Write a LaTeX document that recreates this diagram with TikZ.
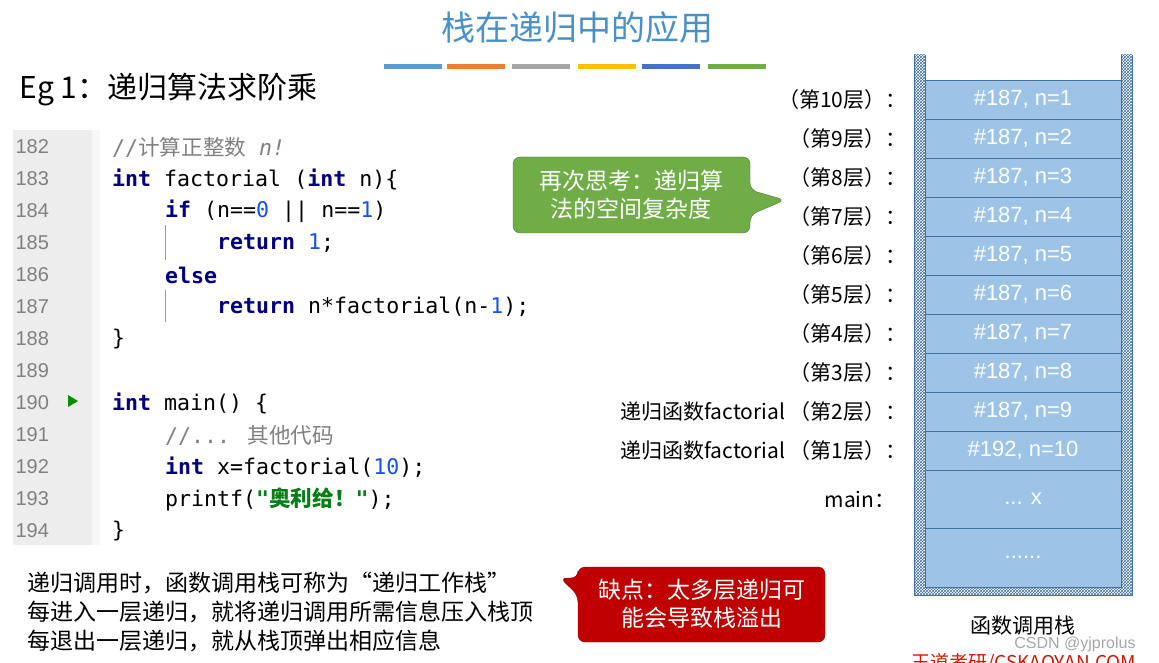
\documentclass[tikz,border=0pt]{standalone}
\usepackage{fontspec}
\setmainfont{Liberation Sans}
\newfontfamily\cjk{Noto Sans CJK SC}
\newfontfamily\mono{DejaVu Sans Mono}
\usetikzlibrary{patterns,shapes.callouts}
\definecolor{ttl}{HTML}{4A90C8}
\definecolor{cell}{HTML}{9DC3E6}
\definecolor{cellb}{HTML}{41719C}
\definecolor{kw}{HTML}{000080}
\definecolor{num}{HTML}{1750EB}
\definecolor{cmt}{HTML}{808080}
\definecolor{str}{HTML}{067D17}
\definecolor{gbox}{HTML}{70AD47}
\definecolor{rbox}{HTML}{C00000}
\tikzset{
 cellbox/.style={draw=cellb,fill=cell,line width=0.8pt,text=white,font=\fontsize{22}{22}\selectfont},
 lnum/.style={anchor=west,text=cmt,font=\fontsize{20}{20}\selectfont},
 code/.style={anchor=west,font=\mono\fontsize{21.6}{21.6}\selectfont,inner sep=0},
 lvl/.style={anchor=east,font=\cjk\fontsize{21}{21}\selectfont},
 wall/.style={pattern=crosshatch,pattern color=cellb},
}
\newcommand{\kwd}[1]{\textcolor{kw}{\textbf{#1}}}
\newcommand{\nm}[1]{\textcolor{num}{#1}}
\begin{document}
\begin{tikzpicture}[x=1pt,y=-1pt]
\useasboundingbox (0,0) rectangle (1159,663);
% title
\node[text=ttl,font=\cjk\fontsize{34}{34}\selectfont] (title) at (577,28) {栈在递归中的应用};
\foreach \c/\x in {5B9BD5/384,ED7D31/447,A5A5A5/512,FFC000/578,4472C4/642,70AD47/708}{
 \definecolor{tmp}{HTML}{\c}\fill[tmp] (\x,64) rectangle +(58,5);}
\node[anchor=west,font=\cjk\fontsize{30}{30}\selectfont] (eg) at (16,90) {Eg 1：递归算法求阶乘};
% code panel
\fill[black!7] (13,130) rectangle (92,545);
\fill[black!3] (92,130) rectangle (100,545);
\foreach \i in {0,...,12}{
 \pgfmathtruncatemacro\n{182+\i}
 \node[lnum] (ln\i) at (12,{147+32*\i}) {\n};}
\fill[green!55!black] (68,395) -- (78,401) -- (68,407) -- cycle;
\draw[black!40] (165,225) -- (165,260) (165,290) -- (165,322);
\node[code,text=cmt] (c0) at (112,147) {//{\cjk 计算正整数} \textit{n!}};
\node[code] (c1) at (112,179) {\kwd{int} factorial (\kwd{int} n)\{};
\node[code] (c2) at (165,211) {\kwd{if} (n==\nm{0} || n==\nm{1})};
\node[code] (c3) at (217,243) {\kwd{return} \nm{1};};
\node[code] (c4) at (165,275) {\kwd{else}};
\node[code] (c5) at (217,307) {\kwd{return} n*factorial(n-\nm{1});};
\node[code] (c6) at (112,339) {\}};
\node[code] (c8) at (112,403) {\kwd{int} main() \{};
\node[code,text=cmt] (c9) at (165,435) {//... {\cjk 其他代码}};
\node[code] (c10) at (165,467) {\kwd{int} x=factorial(\nm{10});};
\node[code] (c11) at (165,499) {printf(\textcolor{str}{\textbf{"{\cjk 奥利给！}"}});};
\node[code] (c12) at (112,531) {\}};
% stack
\fill[white] (914,55) rectangle (1132,595);
\fill[wall] (914,55) rectangle (925,595);
\fill[wall] (1121,55) rectangle (1132,595);
\fill[wall] (925,587) rectangle (1121,595);
\draw[cellb,line width=0.6pt] (914,55) -- (914,595) -- (1132,595) -- (1132,55) (925,55) -- (925,587) -- (1121,587) -- (1121,55);
\foreach \i/\t in {0/{\#187, n=1},1/{\#187, n=2},2/{\#187, n=3},3/{\#187, n=4},4/{\#187, n=5},5/{\#187, n=6},6/{\#187, n=7},7/{\#187, n=8},8/{\#187, n=9},9/{\#192, n=10}}{
 \node[cellbox,minimum width=196,minimum height=39,inner sep=0] (s\i) at (1023,{99.5+39*\i}) {\t};}
\node[cellbox,minimum width=196,minimum height=58,inner sep=0] (smain) at (1023,499) {... x};
\node[cellbox,minimum width=196,minimum height=59,inner sep=0] (sdots) at (1023,557.5) {......};
\foreach \i/\t in {0/（第10层）：,1/（第9层）：,2/（第8层）：,3/（第7层）：,4/（第6层）：,5/（第5层）：,6/（第4层）：,7/（第3层）：,8/递归函数factorial （第2层）：,9/递归函数factorial （第1层）：}{
 \node[lvl] (l\i) at (910,{99.5+39*\i}) {\t};}
\node[lvl] (lmain) at (899,499) {main：};
\node[font=\cjk\fontsize{21}{21}\selectfont] (cap) at (1023,626) {函数调用栈};
\node[text=black!35,font=\fontsize{16}{16}\selectfont] (wm) at (1075,644) {CSDN @yjprolus};
\node[anchor=north west,text=rbox!80!orange,font=\cjk\fontsize{19}{19}\selectfont] (wd) at (908,650) {王道考研/CSKAOYAN.COM};
% callouts
\draw[gbox!70!black,fill=gbox,rounded corners=7] (513,157) -- (750,157) -- (750,190) -- (785,200) -- (750,215) -- (750,233) -- (513,233) -- cycle;
\node[text=white,align=center,font=\cjk\fontsize{23}{28}\selectfont] (gt) at (631,195) {再次思考：递归算\\法的空间复杂度};
\draw[rbox!70!black,fill=rbox,rounded corners=7] (578,567) -- (825,567) -- (825,642) -- (578,642) -- (578,595) -- (560,578) -- (578,578) -- cycle;
\node[text=white,align=center,font=\cjk\fontsize{23}{28}\selectfont] (rt) at (702,604) {缺点：太多层递归可\\能会导致栈溢出};
% bottom text
\node[anchor=west,align=left,font=\cjk\fontsize{23}{29}\selectfont] (bt) at (24,612) {递归调用时，函数调用栈可称为“递归工作栈”\\每进入一层递归，就将递归调用所需信息压入栈顶\\每退出一层递归，就从栈顶弹出相应信息};
\end{tikzpicture}
\end{document}
